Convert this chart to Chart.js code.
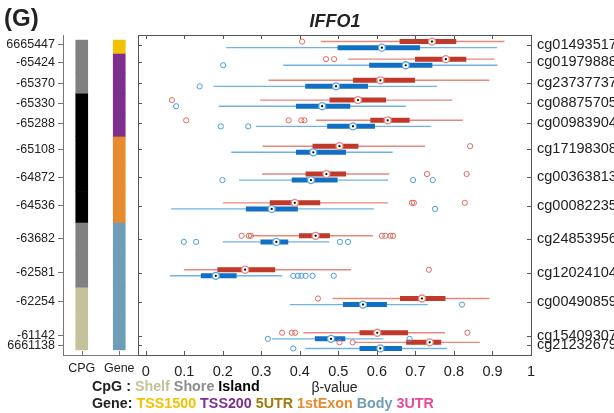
<!DOCTYPE html>
<html><head><meta charset="utf-8">
<script src="https://cdn.jsdelivr.net/npm/chart.js@4.4.1/dist/chart.umd.min.js"></script>
<style>
html,body{margin:0;padding:0;background:#fff;}
#wrap{position:relative;width:614px;height:413px;overflow:hidden;font-family:"Liberation Sans",Arial,Helvetica,sans-serif;color:#222;}
canvas{position:absolute;left:0;top:0;}
.t{position:absolute;white-space:nowrap;font-weight:bold;}
</style></head><body>
<div id="wrap">
<canvas id="side" width="614" height="413"></canvas>
<canvas id="main" width="614" height="413"></canvas>
<div class="t" style="left:4px;top:4px;font-size:24px;line-height:28px;">(G)</div>
<div class="t" style="left:285px;width:100px;top:11px;font-size:18px;line-height:20px;font-style:italic;text-align:center;">IFFO1</div>
<div class="t" style="left:92px;top:378px;font-size:14.3px;line-height:16px;">CpG : <span style="color:#c3c29b">Shelf</span> <span style="color:#8c8c8c">Shore</span> <span style="color:#000">Island</span></div>
<div class="t" style="left:92px;top:395px;font-size:14.3px;line-height:16px;">Gene: <span style="color:#f2c200">TSS1500</span> <span style="color:#7e2f8e">TSS200</span> <span style="color:#9a7d0a">5UTR</span> <span style="color:#e88a2e">1stExon</span> <span style="color:#6f9db6">Body</span> <span style="color:#e8479a">3UTR</span></div>
</div>
<script>
// ---------- data ----------
const probes = ['cg01493517','cg01979888','cg23737737','cg08875705','cg00983904','cg17198308','cg00363813','cg00082235','cg24853956','cg12024104','cg00490859','cg15409307','cg21232679'];
const posLabels = ['6665447','-65424','-65370','-65330','-65288','-65108','-64872','-64536','-63682','-62581','-62254','-61142','6661138'];
const trackPos = [3.0, 8.5, 15.1, 21.3, 27.6, 35.7, 44.4, 53.4, 63.7, 74.3, 83.3, 94.0, 97.0];
const cpgType = ['Shore','Shore','Shore','Island','Island','Island','Island','Island','Shore','Shore','Shelf','Shelf','Shelf'];
const geneType = ['TSS1500','TSS200','TSS200','TSS200','TSS200','1stExon','1stExon','1stExon','Body','Body','Body','Body','Body'];
const xTicks = [0,0.1,0.2,0.3,0.4,0.5,0.6,0.7,0.8,0.9,1];
const sideCats = ['CPG','Gene'];

// red series (upper box in each row)
const redLow  = [0.455,0.525,0.319,0.297,0.442,0.303,0.302,0.200,0.275,0.099,0.485,0.409,0.542];
const redQ1   = [0.659,0.699,0.538,0.477,0.583,0.433,0.415,0.322,0.398,0.186,0.660,0.555,0.676];
const redMed  = [0.743,0.779,0.609,0.551,0.628,0.503,0.469,0.387,0.441,0.258,0.717,0.601,0.737];
const redQ3   = [0.806,0.832,0.699,0.624,0.685,0.552,0.520,0.453,0.478,0.336,0.778,0.681,0.767];
const redHigh = [0.931,0.905,0.892,0.796,0.823,0.725,0.632,0.629,0.590,0.533,0.892,0.777,0.867];
const redOut  = [[0.406],[0.468,0.489],[],[0.068],[0.105,0.371,0.404,0.412],[0.842],[0.730,0.833],[0.691,0.696,0.828],[0.249,0.268,0.273,0.613,0.622,0.635,0.642],[0.735],[0.447],[0.354,0.379,0.388,0.835],[0.503,0.537]];

// blue series (lower box in each row)
const blueLow  = [0.209,0.357,0.176,0.189,0.286,0.222,0.242,0.066,0.200,0.063,0.374,0.327,0.414];
const blueQ1   = [0.498,0.580,0.414,0.390,0.471,0.390,0.379,0.260,0.298,0.143,0.512,0.439,0.555];
const blueMed  = [0.613,0.675,0.494,0.458,0.538,0.435,0.429,0.327,0.339,0.182,0.564,0.481,0.609];
const blueQ3   = [0.712,0.744,0.577,0.531,0.595,0.520,0.498,0.395,0.370,0.236,0.626,0.518,0.665];
const blueHigh = [0.912,0.913,0.756,0.675,0.741,0.641,0.629,0.592,0.476,0.354,0.732,0.617,0.782];
const blueOut  = [[],[0.201],[0.140],[0.079],[0.195,0.266],[],[0.199,0.694,0.745],[0.751],[0.099,0.131,0.504,0.525],[0.383,0.395,0.404,0.415,0.433,0.488],[0.821],[0.317,0.685],[0.383]];

// ---------- styles ----------
const cpgColors = {Shelf:'#c3c29b', Shore:'#808080', Island:'#000000'};
const geneColors = {TSS1500:'#f2c200', TSS200:'#7e2f8e', '5UTR':'#9a7d0a', '1stExon':'#e88a2e', Body:'#6f9db6', '3UTR':'#e8479a'};
const rowOffset = 0.95;
const FONT = '"Liberation Sans", Arial, Helvetica, sans-serif';

const redY = trackPos.map(p => p - rowOffset);
const blueY = trackPos.map(p => p + rowOffset);

function segs(lo, hi, ys) {
  const d = [];
  lo.forEach((v, i) => { d.push({x: v, y: ys[i]}, {x: hi[i], y: ys[i]}, {x: NaN, y: NaN}); });
  return d;
}
function pts(vals, ys) { return vals.map((v, i) => ({x: v, y: ys[i]})); }
function outPts(outs, ys) { const d = []; outs.forEach((arr, i) => arr.forEach(v => d.push({x: v, y: ys[i]}))); return d; }

const innerTicks = {
  id: 'innerTicks',
  afterDraw(chart, args, opts) {
    const {ctx, chartArea: a} = chart;
    const L = opts.len || 4;
    ctx.save();
    ctx.strokeStyle = opts.color || '#555';
    ctx.lineWidth = 1;
    (opts.axes || []).forEach(spec => {
      const sc = chart.scales[spec.id];
      sc.ticks.forEach((t, idx) => {
        const v = sc.type === 'category' ? idx : t.value;
        const p = Math.round(sc.getPixelForValue(v)) + 0.5;
        ctx.beginPath();
        if (spec.side === 'top') { ctx.moveTo(p, a.top); ctx.lineTo(p, a.top + L); }
        else if (spec.side === 'bottom') { ctx.moveTo(p, a.bottom); ctx.lineTo(p, a.bottom - L); }
        else if (spec.side === 'left') { ctx.moveTo(a.left, p); ctx.lineTo(a.left + L, p); }
        else { ctx.moveTo(a.right, p); ctx.lineTo(a.right - L, p); }
        ctx.stroke();
      });
    });
    ctx.restore();
  }
};

// ---------- main box plot ----------
const lineDs = (data, color, w, order) => ({type: 'scatter', data, showLine: true, borderColor: color, backgroundColor: color, borderWidth: w, pointRadius: 0, pointHoverRadius: 0, borderCapStyle: 'butt', order});
const ptDs = (data, border, fill, r, bw, order) => ({type: 'scatter', data, showLine: false, pointRadius: r, pointHoverRadius: r, pointBorderColor: border, pointBackgroundColor: fill, pointBorderWidth: bw, borderColor: border, backgroundColor: fill, order});

const yTickSet = s => { s.ticks = trackPos.map(v => ({value: v})); };
const xTickSet = s => { s.ticks = xTicks.map(v => ({value: v})); };
const frame = {display: true, color: '#555', width: 1};

new Chart(document.getElementById('main'), {
  type: 'scatter',
  data: {
    datasets: [
      lineDs(segs(redLow, redHigh, redY), '#e8877c', 1.4, 10),
      lineDs(segs(blueLow, blueHigh, blueY), '#72b2e6', 1.4, 10),
      lineDs(segs(redQ1, redQ3, redY), '#c0392b', 5, 8),
      lineDs(segs(blueQ1, blueQ3, blueY), '#1270c4', 5, 8),
      ptDs(outPts(redOut, redY), '#e06a5e', 'rgba(0,0,0,0)', 2.6, 1, 6),
      ptDs(outPts(blueOut, blueY), '#4b9be0', 'rgba(0,0,0,0)', 2.6, 1, 6),
      ptDs(pts(redMed, redY), '#e8877c', '#ffffff', 3.5, 1.3, 4),
      ptDs(pts(blueMed, blueY), '#5aa5e3', '#ffffff', 3.5, 1.3, 4),
      ptDs(pts(redMed, redY).concat(pts(blueMed, blueY)), '#000', '#000', 1.1, 0, 2)
    ]
  },
  options: {
    responsive: false, animation: false, events: [],
    layout: {padding: 0},
    plugins: {
      legend: {display: false}, tooltip: {enabled: false},
      innerTicks: {len: 4, color: '#555', axes: [{id: 'x', side: 'bottom'}, {id: 'x2', side: 'top'}, {id: 'y', side: 'left'}, {id: 'y2', side: 'right'}]}
    },
    scales: {
      x: {
        type: 'linear', position: 'bottom', min: -0.02, max: 1,
        afterBuildTicks: xTickSet, afterFit: s => { s.height = 58; },
        grid: {display: false, drawTicks: false}, border: frame,
        ticks: {autoSkip: false, padding: 8, color: '#222', font: {family: FONT, size: 14.5}, callback: v => String(v)},
        title: {display: true, text: 'β-value', color: '#222', font: {family: FONT, size: 14}, padding: {top: 0, bottom: 16.6}}
      },
      x2: {
        type: 'linear', position: 'top', min: -0.02, max: 1,
        afterBuildTicks: xTickSet, afterFit: s => { s.height = 35; },
        grid: {display: false, drawTicks: false}, border: frame,
        ticks: {display: false, autoSkip: false}
      },
      y: {
        type: 'linear', position: 'left', min: 0, max: 100, reverse: true,
        afterBuildTicks: yTickSet, afterFit: s => { s.width = 138; },
        grid: {display: false, drawTicks: false}, border: frame,
        ticks: {display: false, autoSkip: false}
      },
      y2: {
        type: 'linear', position: 'right', min: 0, max: 100, reverse: true,
        afterBuildTicks: yTickSet, afterFit: s => { s.width = 83; },
        grid: {display: false, drawTicks: false}, border: frame,
        ticks: {autoSkip: false, padding: 6, color: '#222', font: {family: FONT, size: 14.5}, callback: (v, i) => probes[i]}
      }
    }
  },
  plugins: [innerTicks]
});

// ---------- side annotation strips ----------
const segBounds = trackPos.map((p, i) => {
  const top = i === 0 ? p - 1.4 : (trackPos[i - 1] + p) / 2;
  const bot = i === trackPos.length - 1 ? p + 1.4 : (p + trackPos[i + 1]) / 2;
  return [top, bot];
});
const sideSets = probes.map((name, i) => ({
  label: name,
  data: [segBounds[i], segBounds[i]],
  backgroundColor: [cpgColors[cpgType[i]], geneColors[geneType[i]]],
  borderWidth: 0, barThickness: 12, grouped: false
}));

new Chart(document.getElementById('side'), {
  type: 'bar',
  data: {labels: sideCats, datasets: sideSets},
  options: {
    responsive: false, animation: false, events: [],
    layout: {padding: {top: 35, right: 614 - 138, left: 0, bottom: 0}},
    plugins: {
      legend: {display: false}, tooltip: {enabled: false},
      innerTicks: {len: 4, color: '#777', axes: [{id: 'x', side: 'bottom'}]}
    },
    scales: {
      x: {
        type: 'category', position: 'bottom', offset: true,
        afterFit: s => { s.height = 58; },
        grid: {display: false, drawTicks: false}, border: {display: true, color: '#777', width: 1},
        ticks: {padding: 6.5, color: '#222', font: {family: FONT, size: 12.5}}
      },
      y: {
        type: 'linear', position: 'left', min: 0, max: 100, reverse: true,
        afterBuildTicks: yTickSet, afterFit: s => { s.width = 63; },
        grid: {display: true, drawOnChartArea: false, drawTicks: true, tickLength: 5, color: '#777'},
        border: {display: true, color: '#777', width: 1},
        ticks: {autoSkip: false, padding: 3, color: '#222', font: {family: FONT, size: 12.5}, callback: (v, i) => posLabels[i]}
      }
    }
  },
  plugins: [innerTicks]
});
</script>
</body></html>
